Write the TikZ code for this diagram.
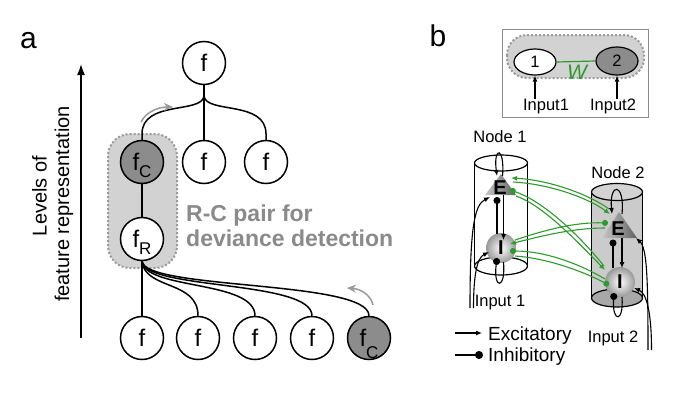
\documentclass[tikz,border=0pt]{standalone}
\usepackage{fontspec}
\setmainfont{Liberation Sans}
\usetikzlibrary{arrows.meta,shapes.geometric}
\newcommand\myfs[1]{\fontsize{#1}{#1}\selectfont}
\definecolor{darkfill}{HTML}{8C8C8C}
\definecolor{pairfill}{HTML}{D2D2D2}
\definecolor{pairedge}{HTML}{9A9A9A}
\definecolor{txtgray}{HTML}{8A8A8A}
\definecolor{arrgray}{HTML}{999999}
\definecolor{grn}{HTML}{2E9B2E}
\definecolor{cylgray}{HTML}{CBCBCB}
\definecolor{cylbot}{HTML}{A8A8A8}
\begin{document}
\begin{tikzpicture}[x=1pt,y=-1pt,
  fnode/.style={circle,draw,line width=1.5pt,minimum size=43pt,inner sep=0pt,fill=white,font=\myfs{24}},
  fdark/.style={fnode,fill=darkfill},
  link/.style={line width=1.5pt},
  garrow/.style={arrgray,line width=1.5pt,-{Stealth[length=9pt,width=8pt]}},
  lbl/.style={inner sep=0pt,font=\myfs{16.5},anchor=base},
  exc/.style={line width=1.1pt,-{Latex[length=6pt,width=5pt]}},
  inh/.style={line width=1.1pt,-{Circle[length=7pt]}},
  gexc/.style={grn,line width=1.1pt,-{Latex[length=6pt,width=5pt]}},
  ginh/.style={grn,line width=1.1pt,-{Circle[length=6pt]}},
  letter/.style={inner sep=0pt,font=\bfseries\myfs{20}},
  cyl/.style={line width=1.2pt},
  cone/.style={left color=black!22,right color=black!62},
  sphere/.style={inner color=white,outer color=black!40},
]
\useasboundingbox (0,0) rectangle (680,402);
\fill[white] (0,0) rectangle (680,402);

% ---------------- panel a ----------------
\node[font=\myfs{30},inner sep=0pt,anchor=base] (la) at (28.5,48) {a};
\coordinate (ax0) at (81,338);
\coordinate (ax1) at (81,64);
\draw[line width=1.5pt,-{Latex[length=11pt,width=8pt]}] (ax0) -- (ax1);
\node[rotate=90,anchor=base,inner sep=0pt,font=\myfs{20}] (lv1) at (46.5,196) {Levels of};
\node[rotate=90,anchor=base,inner sep=0pt,font=\myfs{20}] (lv2) at (69,204) {feature representation};

\draw[pairedge,dotted,line width=2pt,fill=pairfill,rounded corners=22pt] (108,134) rectangle (177,268);

\node[fnode] (top) at (204,63) {f};
\node[fdark] (m1) at (142,162) {f\smash{\raisebox{-7pt}{\myfs{17}C}}};
\node[fnode] (m2) at (204,162) {f};
\node[fnode] (m3) at (266,162) {f};
\node[fnode] (fr) at (142,239) {f\smash{\raisebox{-7pt}{\myfs{17}R}}};
\node[fnode] (b1) at (142,338) {f};
\node[fnode] (b2) at (198,338) {f};
\node[fnode] (b3) at (255,338) {f};
\node[fnode] (b4) at (312,338) {f};
\node[fdark] (b5) at (369,338) {f\smash{\raisebox{-12pt}{\myfs{17}C}}};

\coordinate (J) at (204,96);
\draw[link] (top.south) -- (J) -- (m2.north);
\draw[link] (J) .. controls (202,114) and (142,100) .. (142,134) -- (m1.north);
\draw[link] (J) .. controls (206,114) and (266,100) .. (266,134) -- (m3.north);
\draw[link] (m1.south) -- (fr.north);

\coordinate (ga1) at (141,122);
\coordinate (ga2) at (173,107);
\draw[garrow] (ga1) .. controls (146,112) and (158,107) .. (ga2);

\draw[link] (fr.south) -- (b1.north);
\draw[link] (fr.south) .. controls (145,290) and (198,280) .. (b2.north);
\draw[link] (fr.south) .. controls (145,290) and (255,280) .. (b3.north);
\draw[link] (fr.south) .. controls (145,290) and (312,280) .. (b4.north);
\draw[link] (fr.south) .. controls (145,290) and (369,280) .. (b5.north);

\coordinate (gb1) at (373,305);
\coordinate (gb2) at (347,288);
\draw[garrow] (gb1) .. controls (371,296) and (362,289) .. (gb2);

\node[anchor=base west,inner sep=0pt,text=txtgray,font=\bfseries\myfs{23}] (rc1) at (186,221) {R-C pair for};
\node[anchor=base west,inner sep=0pt,text=txtgray,font=\bfseries\myfs{23}] (rc2) at (186,246.5) {deviance detection};

% ---------------- panel b ----------------
\node[font=\myfs{30},inner sep=0pt,anchor=base] (lb) at (438,46) {b};
\draw[darkfill,line width=1pt,fill=white] (502,29) rectangle (648,117);
\draw[pairedge,dotted,line width=2pt,fill=pairfill,rounded corners=20pt] (507,35) rectangle (644,78);
\node[ellipse,draw,line width=1.2pt,fill=white,minimum width=42pt,minimum height=26pt,inner sep=0pt,font=\myfs{16.5}] (n1) at (535,62) {1};
\node[ellipse,draw,line width=1.2pt,fill=darkfill,minimum width=42pt,minimum height=28pt,inner sep=0pt,font=\myfs{16.5}] (n2) at (617,61) {2};
\draw[grn,line width=1.2pt] (n1.east) -- (n2.west);
\node[text=grn,inner sep=0pt,font=\itshape\myfs{21}] (w) at (577,72) {W};
\node[lbl] (in1) at (546,110.7) {Input1};
\node[lbl] (in2) at (613,110.7) {Input2};
\draw[exc] (in1.north -| n1.south) -- (n1.south);
\draw[exc] (in2.north -| n2.south) -- (n2.south);

% cylinder 1
\fill[white] (474.5,163) rectangle (527.5,266);
\draw[cyl] (474.5,163) -- (474.5,266);
\draw[cyl] (527.5,163) -- (527.5,266);
\draw[cyl] (501,163) ellipse [x radius=26.5pt, y radius=8pt];
\draw[cyl] (501,266) ellipse [x radius=26.5pt, y radius=9pt];
% cylinder 2
\fill[cylgray] (591.5,192) rectangle (642.5,298);
\draw[cyl,fill=cylbot] (617,298) ellipse [x radius=25.5pt, y radius=9pt];
\draw[cyl] (591.5,192) -- (591.5,298);
\draw[cyl] (642.5,192) -- (642.5,298);
\draw[cyl,fill=cylgray!85!white] (617,192) ellipse [x radius=25.5pt, y radius=8.5pt];

\node[lbl] (nd1) at (500,142) {Node 1};
\node[lbl] (nd2) at (618,178) {Node 2};
\node[lbl] (ip1) at (500,306.5) {Input 1};
\node[lbl] (ip2) at (613,342.5) {Input 2};

% node 1 cells
\shade[cone] (501,174) -- (485,195) -- (516,195) -- cycle;
\node[letter] (E1) at (500,188) {E};
\shade[sphere] (501,248) circle (15pt);
\node[letter] (I1) at (501,248) {I};
% node 2 cells
\shade[cone] (619,212) -- (602,238) -- (637,238) -- cycle;
\node[letter] (E2) at (618,229) {E};
\shade[sphere] (620,282) circle (15pt);
\node[letter] (I2) at (620,282) {I};

% node 1 wiring
\coordinate (e1lr) at (502.5,176);
\coordinate (e1ll) at (497,176);
\draw[exc] (e1lr) .. controls (505,146) and (493,146) .. (e1ll);
\coordinate (i1t) at (497,234);
\coordinate (e1d) at (497,197);
\draw[inh] (i1t) -- (e1d);
\coordinate (e1b) at (503.5,195);
\coordinate (i1tip) at (503.5,240);
\draw[exc] (e1b) -- (i1tip);
\coordinate (i1lr) at (503.5,262);
\coordinate (i1ll) at (497,258);
\draw[inh] (i1lr) .. controls (506,290) and (493,290) .. (i1ll);
\coordinate (in1a) at (470,308);
\coordinate (in1b) at (473.5,308);
\coordinate (e1in) at (490,197);
\coordinate (i1in) at (489,252);
\draw[exc] (in1a) .. controls (470,230) and (474,205) .. (e1in);
\draw[exc] (in1b) .. controls (473.5,275) and (477,258) .. (i1in);

% node 2 wiring
\coordinate (e2lr) at (622,214);
\coordinate (e2ll) at (612,214);
\draw[exc] (e2lr) .. controls (625,182) and (609,182) .. (e2ll);
\coordinate (i2t) at (613,268);
\coordinate (e2d) at (613,239.5);
\draw[inh] (i2t) -- (e2d);
\coordinate (e2b) at (622,238);
\coordinate (i2tip) at (622,268);
\draw[exc] (e2b) -- (i2tip);
\coordinate (i2lr) at (622,297);
\coordinate (i2ll) at (614,293);
\draw[inh] (i2lr) .. controls (624,323) and (612,323) .. (i2ll);
\coordinate (in2a) at (648,350);
\coordinate (in2b) at (651.5,350);
\coordinate (e2in) at (636,238);
\coordinate (i2in) at (634,288);
\draw[exc] (in2a) .. controls (648,280) and (647,248) .. (e2in);
\draw[exc] (in2b) .. controls (651.5,310) and (646,293) .. (i2in);

% green inter-node connections
\coordinate (g1a) at (609,209); \coordinate (g1b) at (511,178);
\draw[gexc] (g1a) .. controls (590,195) and (550,180) .. (g1b);
\coordinate (g1c) at (513,182); \coordinate (g1d) at (610,214);
\draw[gexc] (g1c) .. controls (550,184) and (588,198) .. (g1d);
\coordinate (g2a) at (604,266); \coordinate (g2b) at (510,190);
\draw[ginh] (g2a) .. controls (575,230) and (540,200) .. (g2b);
\coordinate (g2c) at (516,196); \coordinate (g2d) at (605,270);
\draw[gexc] (g2c) .. controls (542,205) and (574,238) .. (g2d);
\coordinate (g3a) at (515,240); \coordinate (g3b) at (608,223);
\draw[ginh] (g3a) .. controls (545,230) and (575,222) .. (g3b);
\coordinate (g3c) at (605,228); \coordinate (g3d) at (510,244);
\draw[gexc] (g3c) .. controls (575,228) and (545,235) .. (g3d);
\coordinate (g4a) at (605,279); \coordinate (g4b) at (510,251);
\draw[ginh] (g4a) .. controls (580,264) and (545,251) .. (g4b);
\coordinate (g4c) at (515,256); \coordinate (g4d) at (609,285);
\draw[ginh] (g4c) .. controls (545,258) and (580,270) .. (g4d);

% legend
\coordinate (lgA1) at (455,333); \coordinate (lgA2) at (482,333);
\draw[exc] (lgA1) -- (lgA2);
\coordinate (lgB1) at (455,355); \coordinate (lgB2) at (483,355);
\draw[line width=1.1pt,-{Circle[length=8pt]}] (lgB1) -- (lgB2);
\node[anchor=base west,inner sep=0pt,font=\myfs{19}] (ex) at (488,340) {Excitatory};
\node[anchor=base west,inner sep=0pt,font=\myfs{19}] (ih) at (488,361.5) {Inhibitory};
\end{tikzpicture}
\end{document}
